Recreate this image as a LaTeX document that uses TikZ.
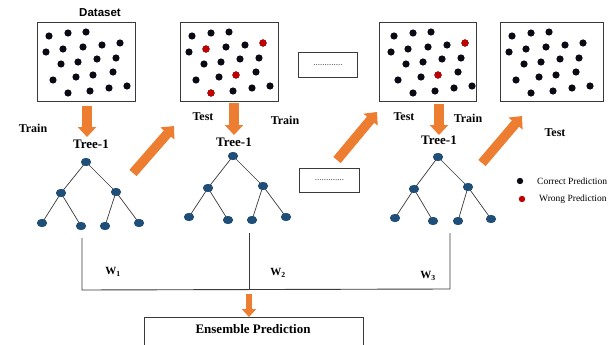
\documentclass[tikz,border=0pt]{standalone}
\usepackage{fontspec}
\setmainfont{Liberation Serif}
\newfontfamily\sansfam{Liberation Sans}
\usetikzlibrary{arrows.meta,shapes.geometric}
\definecolor{orangeA}{HTML}{ED7D31}
\definecolor{treeblue}{HTML}{1F4E79}
\definecolor{dotblack}{HTML}{0A0A14}
\definecolor{dotred}{HTML}{C00000}
\definecolor{frame}{HTML}{3A3A3A}
\tikzset{
  panel/.style={draw=frame, line width=1.2pt},
  dotbox/.style={draw=frame, line width=0.9pt},
  tnode/.style={ellipse, fill=treeblue, minimum width=10pt, minimum height=8pt, inner sep=0pt},
  tedge/.style={draw=frame, line width=0.7pt},
  bigarrow/.style={draw=orangeA, line width=9.5pt, -{Triangle[width=18pt,length=10pt]}},
  smallarrow/.style={draw=orangeA, line width=6pt, -{Triangle[width=14pt,length=8pt]}},
  lbl/.style={font=\fontsize{12}{12}\selectfont\bfseries, inner sep=0pt},
  treelbl/.style={font=\fontsize{13}{13}\selectfont\bfseries, inner sep=0pt},
  wire/.style={draw=frame, line width=0.9pt},
  legtext/.style={font=\fontsize{9.5}{10}\selectfont, anchor=west, inner sep=0pt},
  dottext/.style={font=\fontsize{9}{9}\selectfont, text=frame, inner sep=0pt},
}
\newcommand{\blackdots}[2]{%
  \foreach \dx/\dy in {12/14,31/11,49/10,9/30,26/27,46/25,65/23,83/21,24/42,41/40,60/37,79/36,16/58,39/55,56/53,76/50,31/71,53/69,72/66,90/64}
    {\fill[dotblack] (#1+\dx,#2+\dy) circle (3.6pt);}%
}
\newcommand{\reddots}[3]{%
  \foreach \dx/\dy in {#3}
    {\fill[dotred] (#1+\dx,#2+\dy) circle (3.6pt);}%
}
\begin{document}
\begin{tikzpicture}[x=1pt,y=-1pt]
\useasboundingbox (0,0) rectangle (613,345);
\fill[white] (0,0) rectangle (613,345);

% panels
\node[panel, minimum width=98pt, minimum height=79pt, anchor=north west, inner sep=0pt] (p1) at (37,22) {};
\node[panel, minimum width=98pt, minimum height=79pt, anchor=north west, inner sep=0pt] (p2) at (180,22) {};
\node[panel, minimum width=97pt, minimum height=79pt, anchor=north west, inner sep=0pt] (p3) at (379,22) {};
\node[panel, minimum width=103pt, minimum height=79pt, anchor=north west, inner sep=0pt] (p4) at (500,22) {};

\blackdots{37}{22}
\blackdots{180}{22}
\reddots{180}{22}{26/27,83/21,56/53,31/71}
\blackdots{382}{22}
\reddots{382}{22}{83/21,56/53}
\blackdots{500}{22}

\node[font=\sansfam\fontsize{11.5}{12}\selectfont\bfseries, inner sep=0pt] (ds) at (100,13) {Dataset};

% dotted boxes
\node[dotbox, minimum width=59pt, minimum height=25pt, anchor=north west, inner sep=0pt] (b1) at (298,52) {};
\node[dottext] (b1t) at (b1.center) {.............};
\node[dotbox, minimum width=60pt, minimum height=24pt, anchor=north west, inner sep=0pt] (b2) at (299,168) {};
\node[dottext] (b2t) at (b2.center) {.............};

% labels
\node[lbl] (train1) at (33,128) {Train};
\node[lbl] (test1) at (203,117) {Test};
\node[lbl] (train2) at (285,120) {Train};
\node[lbl] (test2) at (404,117) {Test};
\node[lbl] (train3) at (468,118) {Train};
\node[lbl] (test3) at (555,133) {Test};
\node[treelbl] (t1) at (91,144) {Tree-1};
\node[treelbl] (t2) at (234,142) {Tree-1};
\node[treelbl] (t3) at (439,140) {Tree-1};

% trees
\node[tnode] (a0) at (86,162) {};
\node[tnode] (a1) at (61,193) {};
\node[tnode] (a2) at (116,192) {};
\node[tnode] (a3) at (42,223) {};
\node[tnode] (a4) at (81,226) {};
\node[tnode] (a5) at (105,226) {};
\node[tnode] (a6) at (139,223) {};
\node[tnode] (c0) at (233,156) {};
\node[tnode] (c1) at (208,188) {};
\node[tnode] (c2) at (263,186) {};
\node[tnode] (c3) at (189,217) {};
\node[tnode] (c4) at (228,220) {};
\node[tnode] (c5) at (252,220) {};
\node[tnode] (c6) at (286,217) {};
\node[tnode] (e0) at (438,157) {};
\node[tnode] (e1) at (414,189) {};
\node[tnode] (e2) at (468,187) {};
\node[tnode] (e3) at (395,218) {};
\node[tnode] (e4) at (433,221) {};
\node[tnode] (e5) at (458,221) {};
\node[tnode] (e6) at (491,219) {};
\foreach \t in {a,c,e}{
  \draw[tedge] (\t0.center) -- (\t1.center);
  \draw[tedge] (\t0.center) -- (\t2.center);
  \draw[tedge] (\t1.center) -- (\t3.center);
  \draw[tedge] (\t1.center) -- (\t4.center);
  \draw[tedge] (\t2.center) -- (\t5.center);
  \draw[tedge] (\t2.center) -- (\t6.center);
}
\foreach \t in {a,c,e}{
  \foreach \k in {0,...,6}{\node[tnode] at (\t\k) {};}
}

% orange arrows
\coordinate (d1s) at (87,106);  \coordinate (d1e) at (87,137);
\coordinate (d2s) at (234,103); \coordinate (d2e) at (234,135);
\coordinate (d3s) at (439,104); \coordinate (d3e) at (439,135);
\draw[bigarrow] (d1s) -- (d1e);
\draw[bigarrow] (d2s) -- (d2e);
\draw[bigarrow] (d3s) -- (d3e);
\coordinate (g1s) at (133,173); \coordinate (g1e) at (174,126);
\coordinate (g2s) at (337,160); \coordinate (g2e) at (377,112);
\coordinate (g3s) at (482,163); \coordinate (g3e) at (522,116);
\draw[bigarrow] (g1s) -- (g1e);
\draw[bigarrow] (g2s) -- (g2e);
\draw[bigarrow] (g3s) -- (g3e);

% wires
\coordinate (v1t) at (82,238);  \coordinate (v1b) at (82,290);
\coordinate (v2t) at (249,233); \coordinate (v2b) at (249,290);
\coordinate (v3t) at (450,233); \coordinate (v3b) at (450,289);
\draw[wire] (v1t) -- (v1b) -- (v3b) -- (v3t);
\draw[wire] (v2t) -- (v2b);
\node[inner sep=0pt, font=\fontsize{11}{11}\selectfont\bfseries] (w1) at (113,272) {W\textsubscript{1}};
\node[inner sep=0pt, font=\fontsize{11}{11}\selectfont\bfseries] (w2) at (278,273) {W\textsubscript{2}};
\node[inner sep=0pt, font=\fontsize{11}{11}\selectfont\bfseries] (w3) at (428,276) {W\textsubscript{3}};

% ensemble
\coordinate (sa) at (249,294);
\node[draw=frame, line width=0.9pt, minimum width=219pt, minimum height=40pt, anchor=north west, inner sep=0pt] (ens) at (144,317) {};
\node[font=\fontsize{13}{13}\selectfont\bfseries, inner sep=0pt] (enst) at (253,329) {Ensemble Prediction};
\draw[smallarrow] (sa) -- (ens.north -| sa);

% legend
\fill[dotblack] (520,181) circle (3.2pt) coordinate (l1);
\fill[dotred] (522,199) circle (3.2pt) coordinate (l2);
\node[legtext] (lt1) at (537,181) {Correct Prediction};
\node[legtext] (lt2) at (539,199) {Wrong Prediction};
\end{tikzpicture}
\end{document}
